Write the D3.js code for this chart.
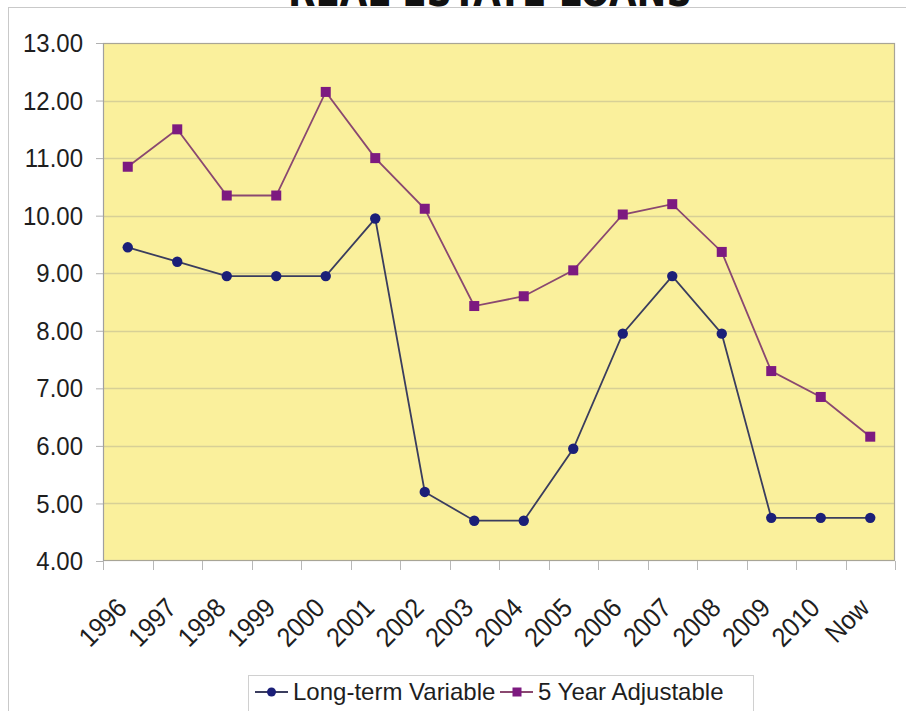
<!DOCTYPE html>
<html>
<head>
<meta charset="utf-8">
<script src="https://cdn.jsdelivr.net/npm/d3@7"></script>
<style>
  html, body { margin: 0; padding: 0; background: #ffffff; }
  svg { display: block; }
  text { font-family: "Liberation Sans", Arial, sans-serif; }
</style>
</head>
<body>
<svg id="chart" width="906" height="711"></svg>
<script>
// Categories along the x axis
const years = ["1996", "1997", "1998", "1999", "2000", "2001", "2002", "2003",
               "2004", "2005", "2006", "2007", "2008", "2009", "2010", "Now"];

// Rates (%) per series
const longTermVariable = [9.45, 9.20, 8.95, 8.95, 8.95, 9.95, 5.20, 4.70,
                          4.70, 5.95, 7.95, 8.95, 7.95, 4.75, 4.75, 4.75];
const fiveYearAdjustable = [10.85, 11.50, 10.35, 10.35, 12.15, 11.00, 10.12, 8.43,
                            8.60, 9.05, 10.02, 10.20, 9.37, 7.30, 6.85, 6.16];

// Y axis ticks
const yTicks = [4, 5, 6, 7, 8, 9, 10, 11, 12, 13];

const seriesNames = ["Long-term Variable", "5 Year Adjustable"];

const svg = d3.select("#chart");

const plot = { left: 103, right: 895, top: 43, bottom: 561 };

const x = d3.scaleBand().domain(years).range([plot.left, plot.right]).padding(0);
const y = d3.scaleLinear().domain([4, 13]).range([plot.bottom, plot.top]);

// Outer chart frame (left and top edges)
svg.append("line").attr("x1", 8.5).attr("x2", 8.5).attr("y1", 7).attr("y2", 711)
  .attr("stroke", "#c9c9c9").attr("stroke-width", 1);
svg.append("line").attr("x1", 8).attr("x2", 906).attr("y1", 7.5).attr("y2", 7.5)
  .attr("stroke", "#c9c9c9").attr("stroke-width", 1);

// Title, running off the top edge
svg.append("text")
  .attr("x", 288).attr("y", 6)
  .attr("textLength", 404).attr("lengthAdjust", "spacingAndGlyphs")
  .style("font-family", "'Liberation Sans Narrow', 'DejaVu Sans Condensed', sans-serif")
  .style("font-weight", "bold")
  .style("font-size", "44px")
  .attr("fill", "#111")
  .text("REAL ESTATE LOANS");

// Plot background
svg.append("rect")
  .attr("x", plot.left).attr("y", plot.top)
  .attr("width", plot.right - plot.left).attr("height", plot.bottom - plot.top)
  .attr("fill", "#faf09c");

// Horizontal gridlines
svg.append("g").selectAll("line").data(yTicks.slice(1, -1)).join("line")
  .attr("x1", plot.left).attr("x2", plot.right)
  .attr("y1", d => Math.round(y(d)) + 0.5).attr("y2", d => Math.round(y(d)) + 0.5)
  .attr("stroke", "#d7d096").attr("stroke-width", 1.5);

// Plot border
svg.append("rect")
  .attr("x", plot.left + 0.5).attr("y", plot.top + 0.5)
  .attr("width", plot.right - plot.left - 1).attr("height", plot.bottom - plot.top - 1)
  .attr("fill", "none").attr("stroke", "#a8a596").attr("stroke-width", 1.2);

// Y axis
const yAxis = d3.axisLeft(y).tickValues(yTicks).tickFormat(d3.format(".2f"))
  .tickSize(7).tickPadding(13);
const gy = svg.append("g").attr("transform", `translate(${plot.left},0)`).call(yAxis);
gy.select(".domain").attr("stroke", "#a0a0a0");
gy.selectAll(".tick line").attr("stroke", "#b0b0b0");
gy.selectAll(".tick text")
  .style("font-size", "24px").attr("fill", "#1e1e1e")
  .attr("transform", "scale(1,1.08)")
  .attr("dy", "0.33em");

// X axis ticks at category boundaries
const boundaries = years.map(d => x(d)).concat([plot.right]);
svg.append("g").selectAll("line").data(boundaries).join("line")
  .attr("x1", d => Math.round(d) + 0.5).attr("x2", d => Math.round(d) + 0.5)
  .attr("y1", plot.bottom).attr("y2", plot.bottom + 9)
  .attr("stroke", "#b8b8b8").attr("stroke-width", 1);

// X axis labels, rotated
svg.append("g").selectAll("text").data(years).join("text")
  .attr("transform", d => `translate(${x(d) + x.bandwidth() / 2 - 6},${plot.bottom + 42}) rotate(-45) scale(1,1.1)`)
  .attr("text-anchor", "end")
  .attr("dy", "0.35em")
  .style("font-size", "24.5px")
  .attr("fill", "#1e1e1e")
  .text(d => d);

const cx = d => x(d) + x.bandwidth() / 2;
const line = d3.line().x(d => cx(d.year)).y(d => y(d.value));

const navy = longTermVariable.map((v, i) => ({ year: years[i], value: v }));
const purple = fiveYearAdjustable.map((v, i) => ({ year: years[i], value: v }));

// 5 Year Adjustable
svg.append("path").datum(purple).attr("d", line)
  .attr("fill", "none").attr("stroke", "#8a4870").attr("stroke-width", 1.8);
svg.append("g").selectAll("rect").data(purple).join("rect")
  .attr("x", d => cx(d.year) - 5).attr("y", d => y(d.value) - 5)
  .attr("width", 10).attr("height", 10)
  .attr("fill", "#7d1a80");

// Long-term Variable
svg.append("path").datum(navy).attr("d", line)
  .attr("fill", "none").attr("stroke", "#3a3d5e").attr("stroke-width", 1.8);
svg.append("g").selectAll("circle").data(navy).join("circle")
  .attr("cx", d => cx(d.year)).attr("cy", d => y(d.value)).attr("r", 5.2)
  .attr("fill", "#1b1f78");

// Legend
const legend = svg.append("g");
legend.append("rect")
  .attr("x", 248.5).attr("y", 675.5).attr("width", 505).attr("height", 50)
  .attr("fill", "#ffffff").attr("stroke", "#d0d0d0");

const legendItems = [
  { name: seriesNames[0], x0: 255, tx: 293, color: "#3a3d5e", marker: "circle", fill: "#1b1f78" },
  { name: seriesNames[1], x0: 500, tx: 538, color: "#8a4870", marker: "square", fill: "#7d1a80" }
];
legendItems.forEach(it => {
  const ly = 692;
  legend.append("line").attr("x1", it.x0).attr("x2", it.x0 + 33)
    .attr("y1", ly).attr("y2", ly).attr("stroke", it.color).attr("stroke-width", 2);
  if (it.marker === "circle") {
    legend.append("circle").attr("cx", it.x0 + 16.5).attr("cy", ly).attr("r", 4.5).attr("fill", it.fill);
  } else {
    legend.append("rect").attr("x", it.x0 + 12.5).attr("y", ly - 4.5)
      .attr("width", 9).attr("height", 9).attr("fill", it.fill);
  }
  legend.append("text").attr("x", it.tx).attr("y", 700)
    .style("font-size", "24px").attr("fill", "#1e1e1e")
    .text(it.name);
});
</script>
</body>
</html>
